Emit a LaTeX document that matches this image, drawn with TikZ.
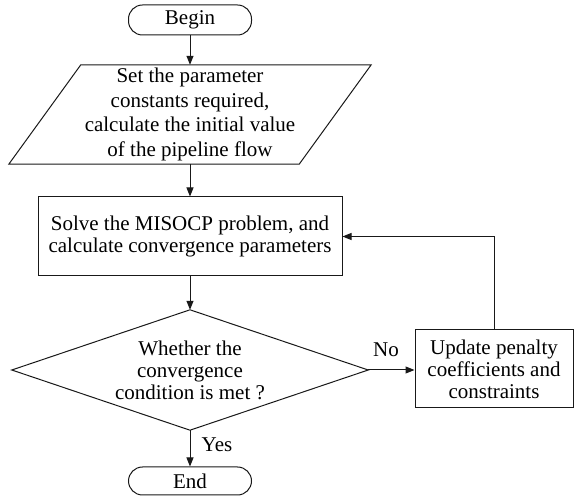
\documentclass[tikz,border=0pt]{standalone}
\usepackage{fontspec}
\setmainfont{Liberation Serif}
\newfontfamily\tnr{Liberation Serif}
\usetikzlibrary{arrows.meta}
\begin{document}
\begin{tikzpicture}[x=1pt,y=1pt,
  every node/.style={font=\tnr\fontsize{21}{22}\selectfont, align=center, inner sep=0pt},
  line/.style={draw=black!90, line width=1pt},
  arr/.style={line, -{Triangle[length=9pt,width=7pt]}},
  term/.style={line, rounded corners=14pt, minimum width=123pt},
  boxed/.style={line, rectangle}
]
\useasboundingbox (0,0) rectangle (574,-497);

\node[term, minimum height=30pt] (begin) at (190,-20) {Begin};

\node[minimum width=362pt, minimum height=99pt, font=\tnr\fontsize{21}{24.5}\selectfont] (para) at (190,-114.5)
  {Set the parameter\\constants required,\hspace*{0.7em}\\calculate the initial value\\of the pipeline flow};
\draw[line] ([xshift=72pt]para.north west) -- (para.north east) -- ([xshift=-72pt]para.south east) -- (para.south west) -- cycle;

\node[boxed, minimum width=304pt, minimum height=79pt] (solve) at (190,-236.5)
  {Solve the MISOCP problem, and\\calculate convergence parameters};

\node[minimum width=356pt, minimum height=120pt] (dec) at (190,-370)
  {Whether the\\convergence\\condition is met ?};
\draw[line] (dec.north) -- (dec.east) -- (dec.south) -- (dec.west) -- cycle;

\node[boxed, minimum width=158pt, minimum height=78pt] (upd) at (494,-369)
  {Update penalty\\coefficients and\\constraints};

\node[term, minimum height=28pt] (end) at (190,-481) {End};

\coordinate (corner) at (upd.north |- solve.east);

\draw[arr] (begin.south) -- (para.north);
\draw[arr] (para.south) -- (solve.north);
\draw[arr] (solve.south) -- (dec.north);
\draw[arr] (dec.east) -- (upd.west |- dec.east);
\draw[arr] (upd.north) -- (corner) -- (solve.east);
\draw[arr] (dec.south) -- (end.north);

\node (no) at (386,-350) {No};
\node (yes) at (217,-445) {Yes};
\end{tikzpicture}
\end{document}
